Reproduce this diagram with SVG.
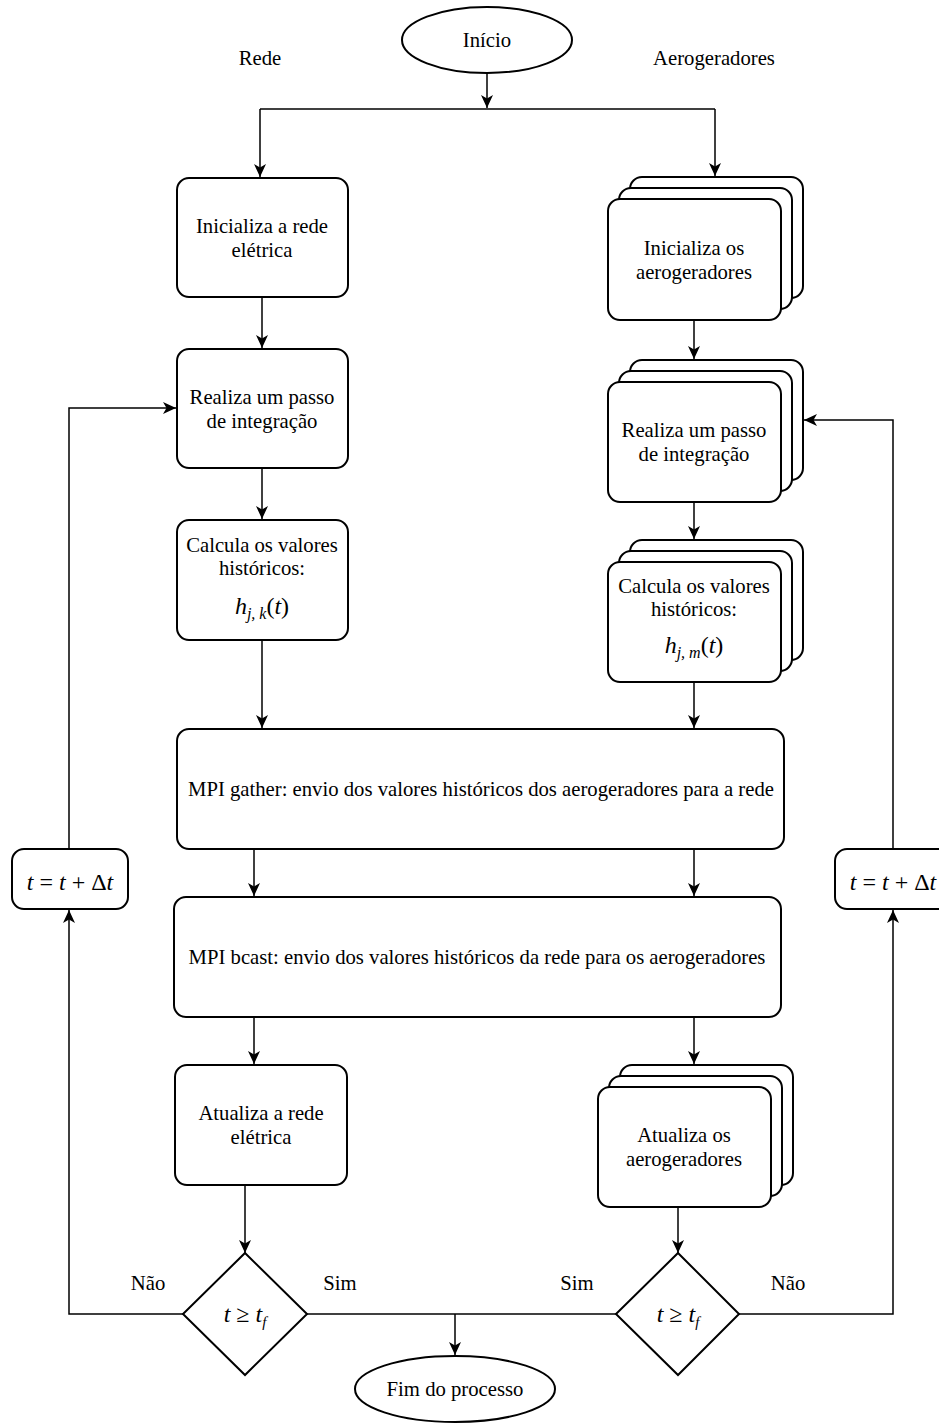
<svg xmlns="http://www.w3.org/2000/svg" width="939" height="1423" viewBox="0 0 939 1423">
<style>
.box{fill:#fff;stroke:#000;stroke-width:2}
.ln{fill:none;stroke:#000;stroke-width:1.5}
.t{font-family:"Liberation Serif","Times New Roman",serif;font-size:20.7px;fill:#000;text-anchor:middle}
.m{font-family:"Liberation Serif","Times New Roman",serif;font-size:24px;fill:#000;text-anchor:middle}
.i{font-style:italic}
</style>
<defs>
<marker id="ar" markerUnits="userSpaceOnUse" markerWidth="14" markerHeight="12" viewBox="0 0 14 12" refX="13" refY="6" orient="auto">
<path d="M0,0 L13,6 L0,12 L3.5,6 Z" fill="#000"/>
</marker>
</defs>
<rect width="939" height="1423" fill="#fff"/>

<g id="labels">
<text class="t" x="260" y="65">Rede</text>
<text class="t" x="714" y="65">Aerogeradores</text>
<text class="t" x="148" y="1290">Não</text>
<text class="t" x="340" y="1290">Sim</text>
<text class="t" x="577" y="1290">Sim</text>
<text class="t" x="788" y="1290">Não</text>
</g>

<g id="connectors">
<path class="ln" d="M487,73 V108" marker-end="url(#ar)"/>
<path class="ln" d="M260,109 H715"/>
<path class="ln" d="M260,109 V177" marker-end="url(#ar)"/>
<path class="ln" d="M715,109 V176" marker-end="url(#ar)"/>
<path class="ln" d="M262,297 V348" marker-end="url(#ar)"/>
<path class="ln" d="M262,468 V519" marker-end="url(#ar)"/>
<path class="ln" d="M262,640 V728" marker-end="url(#ar)"/>
<path class="ln" d="M694,320 V359" marker-end="url(#ar)"/>
<path class="ln" d="M694,502 V539" marker-end="url(#ar)"/>
<path class="ln" d="M694,682 V728" marker-end="url(#ar)"/>
<path class="ln" d="M254,849 V896" marker-end="url(#ar)"/>
<path class="ln" d="M694,849 V896" marker-end="url(#ar)"/>
<path class="ln" d="M254,1017 V1064" marker-end="url(#ar)"/>
<path class="ln" d="M694,1017 V1064" marker-end="url(#ar)"/>
<path class="ln" d="M245,1185 V1253" marker-end="url(#ar)"/>
<path class="ln" d="M678,1207 V1253" marker-end="url(#ar)"/>
<path class="ln" d="M307,1314 H616"/>
<path class="ln" d="M455,1314 V1355" marker-end="url(#ar)"/>
<path class="ln" d="M183,1314 H69 V910" marker-end="url(#ar)"/>
<path class="ln" d="M69,849 V408 H176" marker-end="url(#ar)"/>
<path class="ln" d="M739,1314 H893 V910" marker-end="url(#ar)"/>
<path class="ln" d="M893,849 V420 H804" marker-end="url(#ar)"/>
</g>

<g id="inicio">
<ellipse class="box" cx="487" cy="40" rx="85" ry="33"/>
<text class="t" x="487" y="47">Início</text>
</g>

<g id="rede-init">
<rect class="box" x="177" y="178" width="171" height="119" rx="12"/>
<text class="t" x="262" y="233">Inicializa a rede</text>
<text class="t" x="262" y="257">elétrica</text>
</g>

<g id="rede-passo">
<rect class="box" x="177" y="349" width="171" height="119" rx="12"/>
<text class="t" x="262" y="404">Realiza um passo</text>
<text class="t" x="262" y="428">de integração</text>
</g>

<g id="rede-hist">
<rect class="box" x="177" y="520" width="171" height="120" rx="12"/>
<text class="t" x="262" y="552">Calcula os valores</text>
<text class="t" x="262" y="575">históricos:</text>
<text class="m" x="262" y="614"><tspan class="i">h</tspan><tspan class="i" font-size="16" dy="5">j, k</tspan><tspan dy="-5">(</tspan><tspan class="i">t</tspan>)</text>
</g>

<g id="aero-init">
<rect class="box" x="630" y="177" width="173" height="121" rx="12"/>
<rect class="box" x="619" y="188" width="173" height="121" rx="12"/>
<rect class="box" x="608" y="199" width="173" height="121" rx="12"/>
<text class="t" x="694" y="255">Inicializa os</text>
<text class="t" x="694" y="279">aerogeradores</text>
</g>

<g id="aero-passo">
<rect class="box" x="630" y="360" width="173" height="120" rx="12"/>
<rect class="box" x="619" y="371" width="173" height="120" rx="12"/>
<rect class="box" x="608" y="382" width="173" height="120" rx="12"/>
<text class="t" x="694" y="437">Realiza um passo</text>
<text class="t" x="694" y="461">de integração</text>
</g>

<g id="aero-hist">
<rect class="box" x="630" y="540" width="173" height="120" rx="12"/>
<rect class="box" x="619" y="551" width="173" height="120" rx="12"/>
<rect class="box" x="608" y="562" width="173" height="120" rx="12"/>
<text class="t" x="694" y="593">Calcula os valores</text>
<text class="t" x="694" y="616">históricos:</text>
<text class="m" x="694" y="653"><tspan class="i">h</tspan><tspan class="i" font-size="16" dy="5">j, m</tspan><tspan dy="-5">(</tspan><tspan class="i">t</tspan>)</text>
</g>

<g id="mpi-gather">
<rect class="box" x="177" y="729" width="607" height="120" rx="12"/>
<text class="t" x="481" y="796">MPI gather: envio dos valores históricos dos aerogeradores para a rede</text>
</g>

<g id="mpi-bcast">
<rect class="box" x="174" y="897" width="607" height="120" rx="12"/>
<text class="t" x="477" y="964">MPI bcast: envio dos valores históricos da rede para os aerogeradores</text>
</g>

<g id="rede-atualiza">
<rect class="box" x="175" y="1065" width="172" height="120" rx="12"/>
<text class="t" x="261" y="1120">Atualiza a rede</text>
<text class="t" x="261" y="1144">elétrica</text>
</g>

<g id="aero-atualiza">
<rect class="box" x="620" y="1065" width="173" height="120" rx="12"/>
<rect class="box" x="609" y="1076" width="173" height="120" rx="12"/>
<rect class="box" x="598" y="1087" width="173" height="120" rx="12"/>
<text class="t" x="684" y="1142">Atualiza os</text>
<text class="t" x="684" y="1166">aerogeradores</text>
</g>

<g id="dec-rede">
<polygon class="box" points="245,1253 307,1314 245,1375 183,1314"/>
<text class="m" x="245" y="1322" font-size="23"><tspan class="i">t</tspan> ≥ <tspan class="i">t</tspan><tspan class="i" font-size="15" dy="5">f</tspan></text>
</g>

<g id="dec-aero">
<polygon class="box" points="678,1253 739,1314 678,1375 616,1314"/>
<text class="m" x="678" y="1322" font-size="23"><tspan class="i">t</tspan> ≥ <tspan class="i">t</tspan><tspan class="i" font-size="15" dy="5">f</tspan></text>
</g>

<g id="dt-rede">
<rect class="box" x="12" y="849" width="116" height="60" rx="12"/>
<text class="m" x="70" y="890" font-size="23"><tspan class="i">t</tspan> = <tspan class="i">t</tspan> + Δ<tspan class="i">t</tspan></text>
</g>

<g id="dt-aero">
<rect class="box" x="835" y="849" width="116" height="60" rx="12"/>
<text class="m" x="893" y="890" font-size="23"><tspan class="i">t</tspan> = <tspan class="i">t</tspan> + Δ<tspan class="i">t</tspan></text>
</g>

<g id="fim">
<ellipse class="box" cx="455" cy="1389" rx="100" ry="33"/>
<text class="t" x="455" y="1396">Fim do processo</text>
</g>
</svg>
